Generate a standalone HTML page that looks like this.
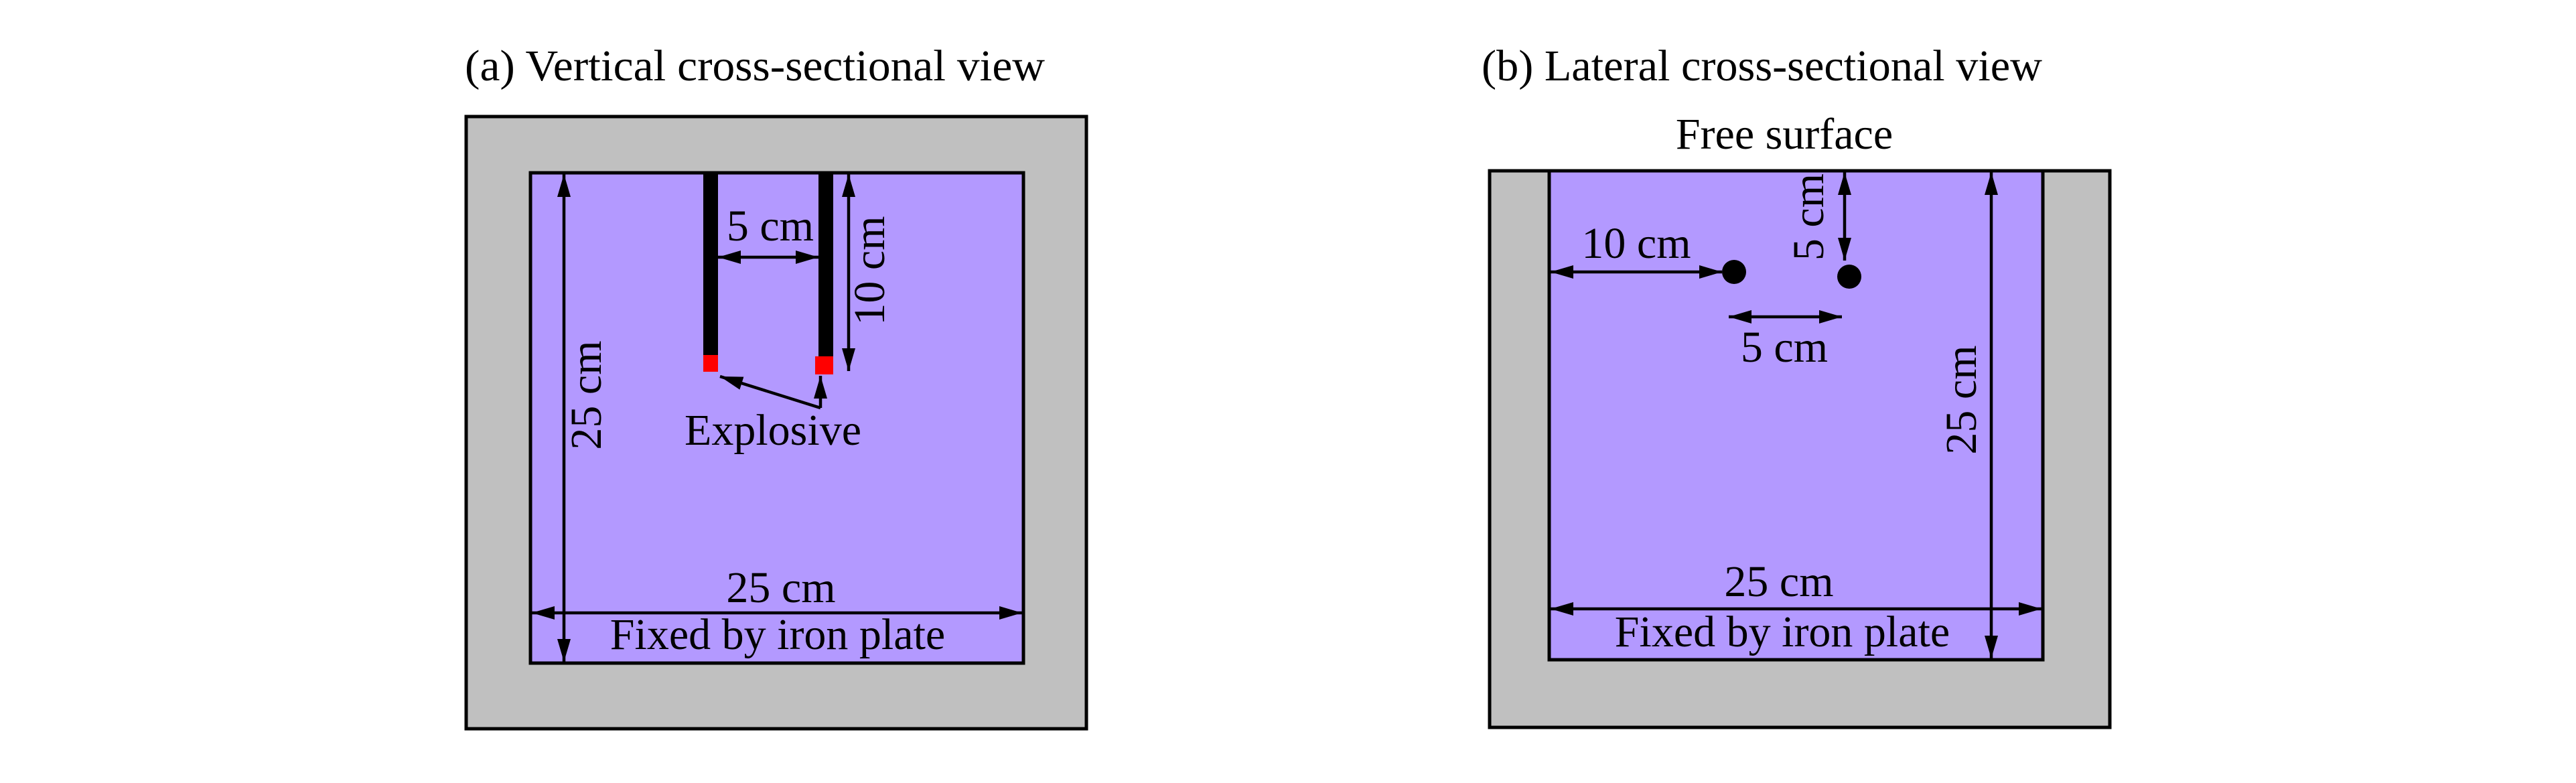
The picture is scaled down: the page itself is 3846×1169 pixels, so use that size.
<!DOCTYPE html>
<html><head><meta charset="utf-8"><style>html,body{margin:0;padding:0;background:#fff}svg{display:block}</style></head>
<body>
<svg width="3846" height="1169" viewBox="0 0 3846 1169" xmlns="http://www.w3.org/2000/svg" font-family="'Liberation Serif', serif" font-size="66" fill="#000">
<defs>
<marker id="a" viewBox="0 0 34 24" refX="34" refY="12" markerWidth="34" markerHeight="24" markerUnits="userSpaceOnUse" orient="auto-start-reverse">
<path d="M0,2 L34,12 L0,22 z" fill="#000"/></marker>
</defs>
<!-- Panel a -->
<text x="694" y="120" textLength="866" lengthAdjust="spacingAndGlyphs">(a) Vertical cross-sectional view</text>
<rect x="696" y="174" width="926" height="914" fill="#c0c0c0" stroke="#000" stroke-width="5"/>
<rect x="792" y="258" width="736" height="732" fill="#b399ff" stroke="#000" stroke-width="5"/>
<rect x="1050" y="258" width="22" height="275" fill="#000"/>
<rect x="1050" y="530" width="22" height="25" fill="#f00"/>
<rect x="1222" y="258" width="22" height="276" fill="#000"/>
<rect x="1217" y="532" width="27" height="27" fill="#f00"/>
<g stroke="#000" stroke-width="4.5" fill="none">
<line x1="1072" y1="384" x2="1222" y2="384" marker-start="url(#a)" marker-end="url(#a)"/>
<line x1="1267" y1="260" x2="1267" y2="554" marker-start="url(#a)" marker-end="url(#a)"/>
<line x1="842" y1="260" x2="842" y2="988" marker-start="url(#a)" marker-end="url(#a)"/>
<line x1="794" y1="915" x2="1526" y2="915" marker-start="url(#a)" marker-end="url(#a)"/>
<polyline points="1225,609 1225,561" marker-end="url(#a)"/>
<line x1="1225" y1="609" x2="1075" y2="562" marker-end="url(#a)"/>
</g>
<text x="1150" y="359" text-anchor="middle">5 cm</text>
<text transform="translate(1320,404) rotate(-90)" text-anchor="middle">10 cm</text>
<text transform="translate(897,590) rotate(-90)" text-anchor="middle">25 cm</text>
<text x="1154" y="664" text-anchor="middle">Explosive</text>
<text x="1166" y="899" text-anchor="middle">25 cm</text>
<text x="1161" y="969" text-anchor="middle">Fixed by iron plate</text>
<!-- Panel b -->
<text x="2212" y="120" textLength="837" lengthAdjust="spacingAndGlyphs">(b) Lateral cross-sectional view</text>
<text x="2664" y="222" text-anchor="middle">Free surface</text>
<rect x="2224" y="255" width="926" height="831" fill="#c0c0c0" stroke="#000" stroke-width="5"/>
<rect x="2313" y="255" width="737" height="730" fill="#b399ff" stroke="#000" stroke-width="5"/>
<circle cx="2589" cy="406" r="18"/>
<circle cx="2761" cy="413" r="18"/>
<g stroke="#000" stroke-width="4.5" fill="none">
<line x1="2315" y1="406" x2="2571" y2="406" marker-start="url(#a)" marker-end="url(#a)"/>
<line x1="2754" y1="257" x2="2754" y2="389" marker-start="url(#a)" marker-end="url(#a)"/>
<line x1="2581" y1="473" x2="2750" y2="473" marker-start="url(#a)" marker-end="url(#a)"/>
<line x1="2973" y1="257" x2="2973" y2="983" marker-start="url(#a)" marker-end="url(#a)"/>
<line x1="2315" y1="909" x2="3048" y2="909" marker-start="url(#a)" marker-end="url(#a)"/>
</g>
<text x="2443" y="385" text-anchor="middle">10 cm</text>
<text transform="translate(2722,324) rotate(-90)" text-anchor="middle">5 cm</text>
<text x="2664" y="540" text-anchor="middle">5 cm</text>
<text transform="translate(2950,597) rotate(-90)" text-anchor="middle">25 cm</text>
<text x="2656" y="890" text-anchor="middle">25 cm</text>
<text x="2661" y="965" text-anchor="middle">Fixed by iron plate</text>
</svg>
</body></html>
